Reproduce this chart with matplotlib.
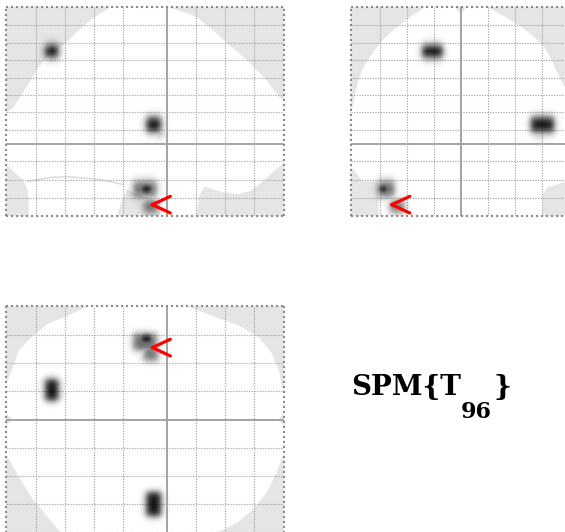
import numpy as np
import matplotlib
matplotlib.use('Agg')
import matplotlib.pyplot as plt
from matplotlib.patches import Polygon

# ---------------- data (MNI-like mm) ----------------
# suprathreshold clusters: centre, half-extent, peak (0..1 darkness)
cluster_x = [-21, 60, 58, -57, -55, -47]
cluster_y = [-79, -9, -5, -14, -15, -11]
cluster_z = [53, 11, 6, -26, -26, -36]
cluster_hx = [7.5, 8.5, 4, 3.5, 6, 5.5]
cluster_hy = [4.5, 5, 3, 4.5, 8, 5]
cluster_hz = [3.5, 4.2, 2, 3, 4.5, 3.5]
cluster_peak = [0.95, 0.95, 0.35, 1.0, 0.6, 0.55]

# current cursor location (x, y, z)
cursor_xyz = [-51, -10, -35]

# glass-brain silhouettes
sag_outline_y = [-38.9, 0.7, 12.3, 20.5, 34.1, 43, 56.7, 68.3, 77.1, 80.5, 80.5, 72.4,
                 63.5, 56.7, 47.8, 36.2, 25.9, 22.5, 21.2, 20.5, -4.8, -4.8, -11.6,
                 -18.4, -27.3, -30.7, -34.1, -94.9, -94.9, -95.6, -99, -105.1, -110.5,
                 -110.5, -105.1, -99, -93.5, -88.1, -79.9, -71, -62.8, -52.6]
sag_outline_z = [78.5, 78.5, 75.4, 72.6, 63.4, 56.6, 46.9, 36.6, 26.9, 25.1, -10.9, -16.6,
                 -23.4, -27.4, -29.1, -27.4, -24.6, -29.1, -37.7, -41.5, -41.5, -33.7, -31.4,
                 -29.7, -26.3, -32, -41.5, -41.5, -34.9, -26.3, -20.6, -16, -12,
                 17.7, 21.1, 29.1, 36.6, 44, 52, 56.6, 63.4, 70.9]
sag_cereb_y = [-95.6, -79.9, -68.3, -61.4, -45.7, -30]
sag_cereb_z = [-21.7, -19.4, -18.9, -19.4, -20.6, -23.4]

cor_outline_x = [-26.4, -4.4, 0, 3.7, 19.8, 34.4, 44.7, 54.2, 61.5, 66.7, 71.1, 76.2, 81,
                 81, 71.1, 63.7, 60.1, 60.1, -60.8, -60.8, -72.5, -76.2, -81, -81,
                 -79.9, -77.7, -75.5, -71.8, -65.2, -57.9, -48.4, -35.9]
cor_outline_z = [78.5, 78.5, 74.3, 78.5, 78.5, 72, 66.9, 61.1, 55.4, 48, 40.6, 32.6, 28,
                 -20.6, -23.4, -25.1, -29.1, -41.5, -41.5, -21.7, -21.7, -17.7, -13.7, 19.4,
                 21.1, 29.1, 36.6, 44, 52, 59.4, 66.3, 73.7]

axi_outline_y = [-53.9, 13.7, 31.4, 49.8, 63.5, 72.4, 77.1, 79.2, 80.5, 80.5, 76.5, 80.5,
                 80.5, 75.1, 68.3, 58.7, 47.8, 38.2, 32.8, -71.7, -74.4, -79.9, -91.5,
                 -100.3, -109.2, -110.5, -110.5, -105.8, -110.5, -110.5, -109.2, -105.8,
                 -101.7, -93.5, -81.9, -68.3]
axi_outline_x = [-80.5, -80.5, -73.5, -66.4, -58, -46.6, -34.6, -22.6, -20.5, -4.9, 0, 4.9,
                 24, 38.2, 52.3, 64.3, 73.5, 78.4, 80.6, 80.6, 78.4, 71.4, 57.2,
                 43.1, 26.9, 25.4, 4.2, 0, -4.2, -26.1, -27.6, -36.7,
                 -48.8, -58, -67.8, -73.5]

# grid positions (mm)
grid_y = [-90, -70, -50, -30, 20, 40, 60]
grid_z = [68, 58, 48, 38, 28, 18, 8, -10, -21, -31]
grid_x = [-60, -40, -20, 20, 40, 60]

stat_name = "SPM{T"
stat_df = "96"

# ---------------- styling ----------------
BG_GRAY = '#e5e5e5'
GRID_C = '#9a9a9a'
CROSS_C = '#a3a3a3'

W, H = 565, 532
fig = plt.figure(figsize=(W / 100, H / 100), dpi=100)
fig.patch.set_facecolor('white')


def add_ax(l, t, r, b):
    ax = fig.add_axes([l / W, 1 - b / H, (r - l) / W, (b - t) / H])
    ax.set_facecolor(BG_GRAY)
    ax.set_xticks([])
    ax.set_yticks([])
    for s in ax.spines.values():
        s.set_visible(False)
    return ax


def smooth_box(d, h, w=1.4):
    return 1.0 / (1.0 + np.exp((np.abs(d) - h) / w))


def draw_view(ax, xlim, ylim, outline_a, outline_b, ca, cb, ha, hb,
              grid_a, grid_b, cur_a, cur_b):
    ax.add_patch(Polygon(np.column_stack([outline_a, outline_b]), closed=True,
                         fc='white', ec='none', zorder=1))
    dots = (0, (1.0, 1.4))
    for v in grid_a:
        ax.axvline(v, color=GRID_C, lw=0.8, ls=dots, zorder=2)
    for v in grid_b:
        ax.axhline(v, color=GRID_C, lw=0.8, ls=dots, zorder=2)
    # MIP of clusters
    a = np.arange(min(xlim), max(xlim), 1.0) + 0.5
    b = np.arange(min(ylim), max(ylim), 1.0) + 0.5
    A, B = np.meshgrid(a, b)
    val = np.zeros_like(A)
    for k in range(len(cluster_peak)):
        v = cluster_peak[k] * smooth_box(A - ca[k], ha[k]) * smooth_box(B - cb[k], hb[k])
        val = np.maximum(val, v)
    rgba = np.zeros(A.shape + (4,))
    rgba[..., 3] = np.clip(val, 0, 1)
    ax.imshow(rgba, extent=(a[0] - 0.5, a[-1] + 0.5, b[0] - 0.5, b[-1] + 0.5),
              origin='lower', interpolation='bilinear', aspect='auto', zorder=3)
    # crosshair at origin
    ax.axvline(0, color=CROSS_C, lw=1.4, zorder=4)
    ax.axhline(0, color=CROSS_C, lw=1.4, zorder=4)
    # dotted frame
    ax.set_xlim(*xlim)
    ax.set_ylim(*ylim)
    for v in xlim:
        ax.axvline(v, color='#8a8a8a', lw=1.5, ls=dots, zorder=5, clip_on=False)
    for v in ylim:
        ax.axhline(v, color='#8a8a8a', lw=1.5, ls=dots, zorder=5, clip_on=False)
    # red cursor pointer "<"
    for dy in (6.0, -6.0):
        ax.annotate('', xy=(cur_a, cur_b), xytext=(13, dy), textcoords='offset points',
                    arrowprops=dict(arrowstyle='-', color='#ff0000', lw=2.3,
                                    shrinkA=0, shrinkB=0), zorder=6)


ax_sag = add_ax(6, 7, 284, 216)
draw_view(ax_sag, (-110.5, 80.5), (-41.5, 78.5), sag_outline_y, sag_outline_z,
          cluster_y, cluster_z, cluster_hy, cluster_hz, grid_y, grid_z,
          cursor_xyz[1], cursor_xyz[2])
ax_sag.plot(sag_cereb_y, sag_cereb_z, color='#dadada', lw=1.0, zorder=1.5)

ax_cor = add_ax(351, 7, 571, 216)
draw_view(ax_cor, (-81, 81), (-41.5, 78.5), cor_outline_x, cor_outline_z,
          cluster_x, cluster_z, cluster_hx, cluster_hz, grid_x, grid_z,
          cursor_xyz[0], cursor_xyz[2])

ax_axi = add_ax(6, 306, 284, 533)
draw_view(ax_axi, (-110.5, 80.5), (80.5, -80.5), axi_outline_y, axi_outline_x,
          cluster_y, cluster_x, cluster_hy, cluster_hx, grid_y, grid_x,
          cursor_xyz[1], cursor_xyz[0])

# statistic label
font = dict(family='DejaVu Serif', fontweight='bold', color='black')
fig.text(351 / W, 1 - 395 / H, stat_name, fontsize=20, va='baseline', ha='left', **font)
fig.text(461 / W, 1 - 418 / H, stat_df, fontsize=16, va='baseline', ha='left', **font)
fig.text(494 / W, 1 - 395 / H, "}", fontsize=20, va='baseline', ha='left', **font)

fig.savefig('out.png', dpi=100)
